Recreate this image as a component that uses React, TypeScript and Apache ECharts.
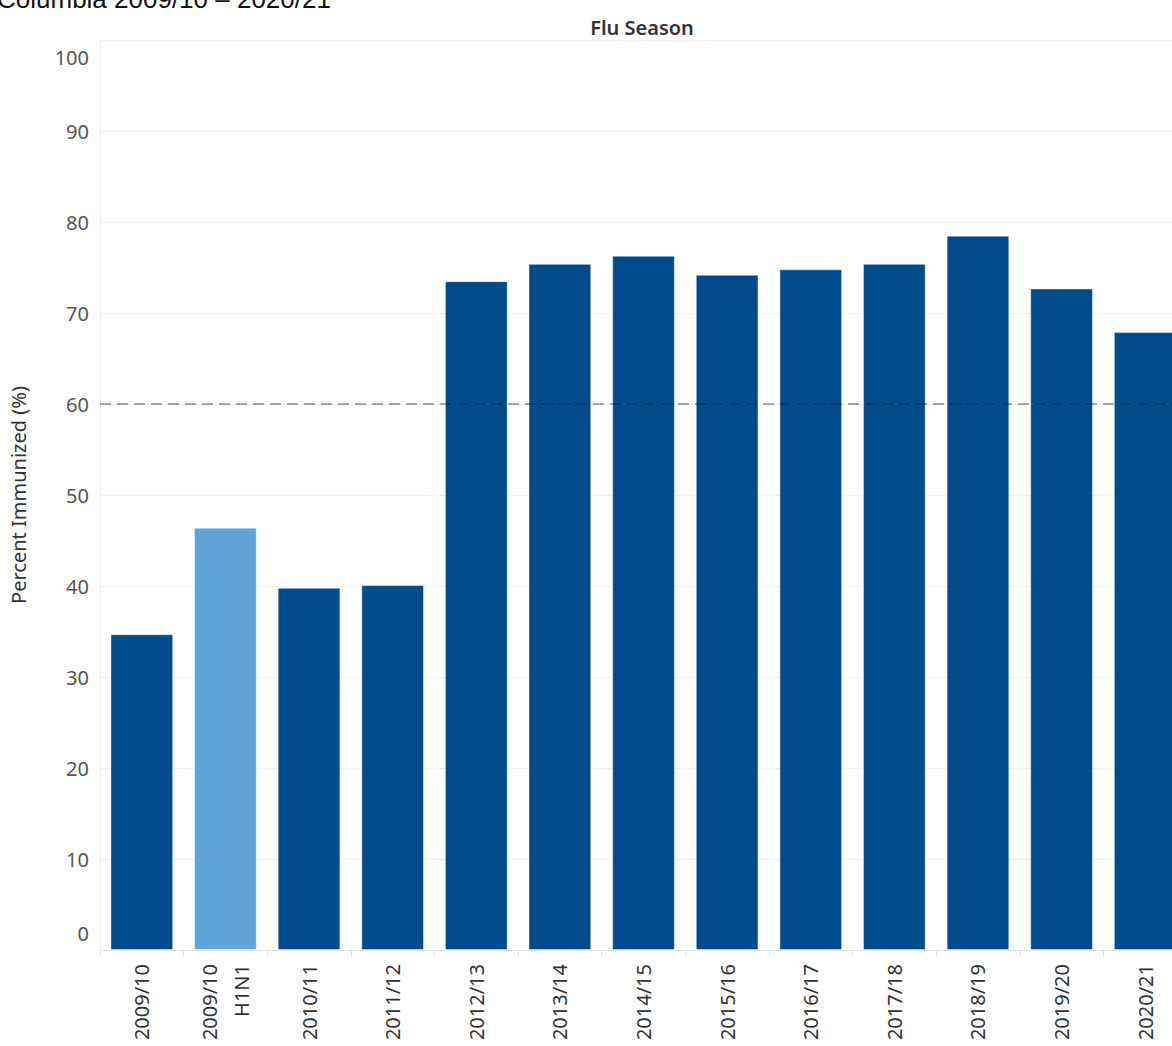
import React, { useEffect, useRef } from "react";
import * as echarts from "echarts";

const categories = [
  "2009/10",
  "2009/10\nH1N1",
  "2010/11",
  "2011/12",
  "2012/13",
  "2013/14",
  "2014/15",
  "2015/16",
  "2016/17",
  "2017/18",
  "2018/19",
  "2019/20",
  "2020/21",
];
const values = [34.7, 46.4, 39.8, 40.1, 73.5, 75.4, 76.3, 74.2, 74.8, 75.4, 78.5, 72.7, 67.9];
const isH1N1 = [false, true, false, false, false, false, false, false, false, false, false, false, false];
const target = 60;
const yTicks = { min: 0, max: 100, interval: 10 };

const DARK = "#004B8C";
const LIGHT = "#5FA5DA";
const FONT = "'Noto Sans', 'Open Sans', sans-serif";

export default function App() {
  const ref = useRef<HTMLDivElement>(null);
  useEffect(() => {
    if (!ref.current) return;
    const chart = echarts.init(ref.current, null, { renderer: "svg" });
    const labelStyle = { fontSize: 20, fontFamily: FONT, color: "#555" };
    chart.setOption({
      animation: false,
      backgroundColor: "#fff",
      graphic: [
        {
          type: "text",
          left: -3,
          top: -14,
          style: {
            text: "Columbia 2009/10 – 2020/21",
            font: "26px 'Liberation Sans', Arial, sans-serif",
            fill: "#111",
          },
        },
        {
          type: "text",
          x: 642,
          y: 27,
          style: {
            text: "Flu Season",
            font: `600 20px ${FONT}`,
            fill: "#333",
            textAlign: "center",
            textVerticalAlign: "middle",
          },
        },
      ],
      grid: { left: 97, right: 13, top: 40, bottom: 96, containLabel: false },
      xAxis: {
        type: "category",
        data: categories,
        boundaryGap: true,
        axisLine: { show: true, lineStyle: { color: "#e6e6e6", width: 1 } },
        axisTick: { show: true, length: 6, lineStyle: { color: "#e0e0e0" } },
        axisLabel: {
          rotate: 90,
          margin: 14,
          fontSize: 20,
          fontFamily: FONT,
          color: "#333",
          lineHeight: 32,
          interval: 0,
        },
      },
      yAxis: {
        type: "value",
        min: yTicks.min,
        max: yTicks.max,
        interval: yTicks.interval,
        name: "Percent Immunized (%)",
        nameLocation: "middle",
        nameRotate: 90,
        nameGap: 72,
        nameTextStyle: { fontSize: 20, fontFamily: FONT, color: "#333" },
        axisLine: { show: true, lineStyle: { color: "#eeeeee" } },
        axisTick: { show: false },
        axisLabel: {
          ...labelStyle,
          margin: 11,
          verticalAlignMinLabel: "bottom",
          verticalAlignMaxLabel: "top",
          formatter: (v: number) =>
            v === yTicks.max ? `{mx|${v}}` : v === yTicks.min ? `{mn|${v}}` : `${v}`,
          rich: {
            mx: { ...labelStyle, padding: [7, 0, 0, 0] },
            mn: { ...labelStyle, padding: [0, 0, 7, 0] },
          },
        },
        splitLine: { show: true, lineStyle: { color: "#efefef", width: 1 } },
      },
      series: [
        {
          type: "bar",
          data: values.map((v, i) => ({
            value: v,
            itemStyle: { color: isH1N1[i] ? LIGHT : DARK },
          })),
          barCategoryGap: "25%",
          itemStyle: { borderColor: "rgba(255,255,255,0.45)", borderWidth: 1 },
          markLine: {
            silent: true,
            symbol: "none",
            label: { show: false },
            lineStyle: { color: "rgba(0,0,0,0.33)", type: [11, 6], width: 2 },
            data: [{ yAxis: target }],
          },
        },
      ],
    });
    return () => chart.dispose();
  }, []);
  return (
    <div
      style={{
        position: "fixed",
        left: 0,
        top: 0,
        width: 1172,
        height: 1046,
        overflow: "hidden",
        background: "#fff",
      }}
    >
      <div ref={ref} style={{ width: 1200, height: 1046 }} />
    </div>
  );
}
